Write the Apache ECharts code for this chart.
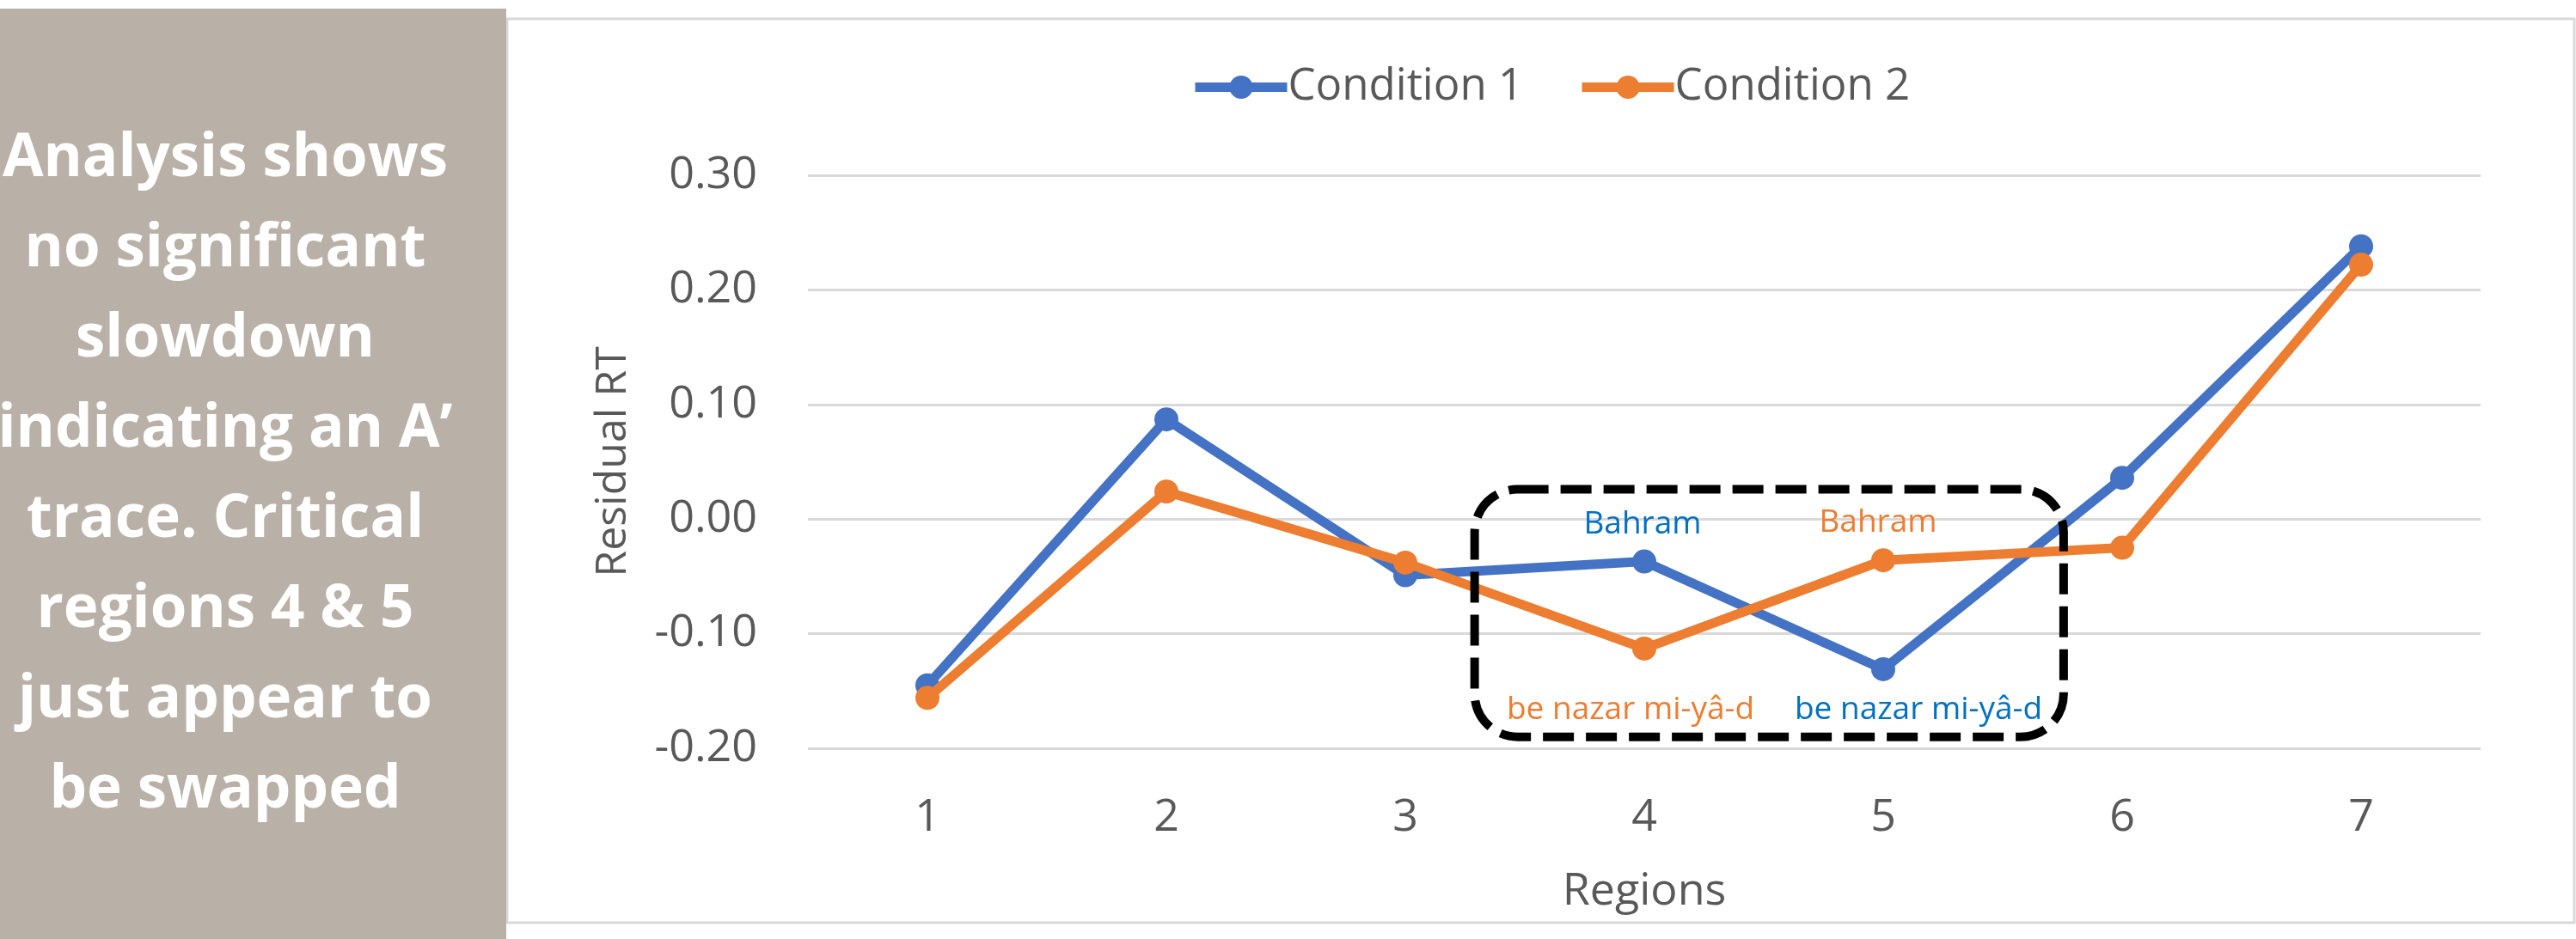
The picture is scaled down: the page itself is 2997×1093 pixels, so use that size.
<!DOCTYPE html>
<html>
<head>
<meta charset="utf-8">
<script src="https://cdn.jsdelivr.net/npm/echarts@6/dist/echarts.min.js"></script>
<style>
html,body{margin:0;padding:0;background:#fff;}
#chart{width:2997px;height:1093px;}
</style>
</head>
<body>
<div id="chart"></div>
<script>
const categories = ['1', '2', '3', '4', '5', '6', '7'];
const condition1 = [-0.145, 0.087, -0.049, -0.037, -0.131, 0.036, 0.238];
const condition2 = [-0.156, 0.024, -0.038, -0.113, -0.036, -0.025, 0.222];
const seriesNames = ['Condition 1', 'Condition 2'];
const yTicks = { min: -0.2, max: 0.3, interval: 0.1 };
const wordSubject = 'Bahram';
const wordVerb = 'be nazar mi-yâ-d';
const panelLines = ['Analysis shows', 'no significant', 'slowdown', 'indicating an A\u2019', 'trace. Critical', 'regions 4 & 5', 'just appear to', 'be swapped'];
// annotation box extents in data units (region number, residual RT)
const boxRegionFrom = 3.29, boxRegionTo = 5.755;
const boxValueTop = 0.026, boxValueBottom = -0.19;

const BLUE = '#4472C4', ORANGE = '#ED7D31', TXT_BLUE = '#0070C0';
const FONT = '"Open Sans", "Noto Sans", sans-serif';

function annot(color, text, pos, dist, dx) {
  return { show: true, formatter: text, position: pos, distance: dist, offset: [dx, 0],
           color: color, fontSize: 37, fontFamily: FONT };
}

const c1Data = condition1.map(v => ({ value: v }));
const c2Data = condition2.map(v => ({ value: v }));
c1Data[3].label = annot(TXT_BLUE, wordSubject, 'top', 11, -2);
c2Data[4].label = annot(ORANGE, wordSubject, 'top', 11, -6);
c2Data[3].label = annot(ORANGE, wordVerb, 'bottom', 39, -16);
c1Data[4].label = annot(TXT_BLUE, wordVerb, 'bottom', 15, 41);

const chart = echarts.init(document.getElementById('chart'), null, { renderer: 'canvas' });
const option = {
  animation: false,
  backgroundColor: '#fff',
  textStyle: { fontFamily: FONT },
  legend: {
    left: 1380, top: 71,
    itemWidth: 107, itemHeight: 34, itemGap: 63,
    lineStyle: { width: 11 },
    textStyle: { fontSize: 51, color: '#595959', fontFamily: FONT, padding: [0, 0, 0, -4] },
    data: seriesNames
  },
  grid: { left: 940, right: 111, top: 204, bottom: 222, containLabel: false },
  xAxis: {
    type: 'category', data: categories, boundaryGap: true,
    name: 'Regions', nameLocation: 'middle', nameGap: 141,
    nameTextStyle: { fontSize: 52, color: '#595959', fontFamily: FONT },
    axisLine: { show: false }, axisTick: { show: false },
    axisLabel: { fontSize: 52, color: '#595959', margin: 55, fontFamily: FONT },
    splitLine: { show: false }
  },
  yAxis: {
    type: 'value', min: yTicks.min, max: yTicks.max, interval: yTicks.interval,
    name: 'Residual RT', nameLocation: 'middle', nameGap: 201,
    nameTextStyle: { fontSize: 50, color: '#595959', fontFamily: FONT },
    axisLine: { show: false }, axisTick: { show: false },
    axisLabel: { fontSize: 52, color: '#595959', margin: 59, fontFamily: FONT,
                 formatter: v => v.toFixed(2) },
    splitLine: { lineStyle: { color: '#D9D9D9', width: 3 } }
  },
  series: [
    { name: seriesNames[0], type: 'line', data: c1Data, symbol: 'circle', symbolSize: 28,
      itemStyle: { color: BLUE }, lineStyle: { color: BLUE, width: 11 }, z: 3 },
    { name: seriesNames[1], type: 'line', data: c2Data, symbol: 'circle', symbolSize: 28,
      itemStyle: { color: ORANGE }, lineStyle: { color: ORANGE, width: 11 }, z: 4 }
  ]
};
chart.setOption(option);

const p0 = chart.convertToPixel({ gridIndex: 0 }, [0, 0]);
const p1 = chart.convertToPixel({ gridIndex: 0 }, [1, yTicks.interval]);
const stepX = p1[0] - p0[0];
const stepY = p1[1] - p0[1];
const xOf = r => p0[0] + (r - 1) * stepX;
const yOf = v => p0[1] + (v / yTicks.interval) * stepY;
const bx0 = xOf(boxRegionFrom), bx1 = xOf(boxRegionTo);
const by0 = yOf(boxValueTop), by1 = yOf(boxValueBottom);

chart.setOption({
  graphic: [
    { type: 'rect', z: -10, silent: true,
      shape: { x: 590, y: 22, width: 2405, height: 1052 },
      style: { fill: '#fff', stroke: '#D9D9D9', lineWidth: 3 } },
    { type: 'rect', z: -5, silent: true,
      shape: { x: 0, y: 10, width: 589, height: 1083 },
      style: { fill: '#B9B1A7' } },
    { type: 'text', z: 10, silent: true, x: 262, y: 553,
      style: { text: panelLines.join('\n'), fill: '#fff', font: 'bold 69px ' + FONT,
               align: 'center', verticalAlign: 'middle', lineHeight: 105 } },
    { type: 'rect', z: 20, silent: true,
      shape: { x: bx0, y: by0, width: bx1 - bx0, height: by1 - by0, r: 50 },
      style: { fill: null, stroke: '#000', lineWidth: 10, lineDash: [36, 14] } }
  ]
});
</script>
</body>
</html>
